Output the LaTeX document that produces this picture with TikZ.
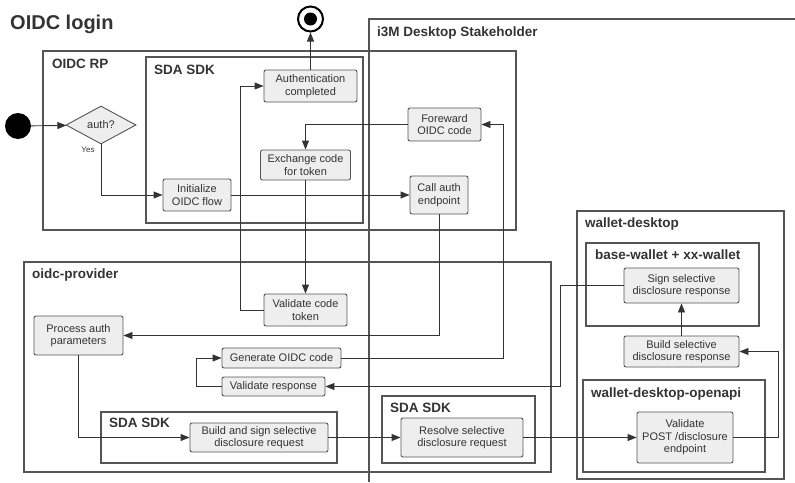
\documentclass[tikz,border=0pt]{standalone}
\usepackage{fontspec}
\setmainfont{Liberation Sans}
\usetikzlibrary{arrows.meta,shapes.geometric}
\definecolor{ln}{HTML}{333333}
\definecolor{bx}{HTML}{555555}
\definecolor{nf}{HTML}{EEEEEE}
\tikzset{
  act/.style={draw=bx, fill=nf, rounded corners=2pt, line width=0.9pt, align=center, inner sep=0pt,
    text=ln, font=\fontsize{11}{12.6}\selectfont},
  grp/.style={draw=bx, line width=1.1pt},
  grplabel/.style={anchor=base west, inner sep=0pt, font=\fontsize{13.5}{15}\selectfont\bfseries, text=ln},
  flow/.style={draw=ln, line width=0.9pt, -{Triangle[length=9pt,width=7pt]}},
}
\begin{document}
\begin{tikzpicture}[x=1pt,y=-1pt]
\useasboundingbox (0,0) rectangle (795,482);
% title
\node[anchor=base west, inner sep=0pt, font=\fontsize{20}{22}\selectfont\bfseries, text=ln] (title) at (10,29) {OIDC login};
% containers
\draw[grp] (795,19) -- (369,19) -- (369,482);
\node[grplabel] (l-i3m) at (377,36) {i3M Desktop Stakeholder};
\draw[grp] (43,51) rectangle (516,230);
\node[grplabel] (l-rp) at (52,68) {OIDC RP};
\draw[grp] (146,57) rectangle (363,223);
\node[grplabel] (l-sdk1) at (154,74) {SDA SDK};
\draw[grp] (577,211) rectangle (784,479);
\node[grplabel] (l-wd) at (585,227) {wallet-desktop};
\draw[grp] (24,262) rectangle (551,472);
\node[grplabel] (l-op) at (32,278) {oidc-provider};
\draw[grp] (101,412) rectangle (337,463);
\node[grplabel] (l-sdk2) at (109,427) {SDA SDK};
\draw[grp] (382,396) rectangle (535,463);
\node[grplabel] (l-sdk3) at (390,412) {SDA SDK};
\draw[grp] (586,243) rectangle (759,326);
\node[grplabel] (l-bw) at (595,259) {base-wallet + xx-wallet};
\draw[grp] (583,380) rectangle (765,472);
\node[grplabel] (l-wdo) at (591,397) {wallet-desktop-openapi};
% start / end
\node[circle, fill=black, minimum size=26pt, inner sep=0pt] (start) at (18,126) {};
\node[circle, draw=black, line width=2pt, fill=white, minimum size=25pt, inner sep=0pt] (end) at (310.5,19) {};
\fill[black] (end.center) circle (6.5pt);
% decision
\node[diamond, draw=bx, fill=nf, line width=0.9pt, minimum width=70pt, minimum height=38pt, inner sep=0pt,
  text=ln, font=\fontsize{11}{12.6}\selectfont] (auth) at (101,125) {auth?};
% activities
\node[act, minimum width=93pt, minimum height=32pt] (authc) at (310.5,86) {Authentication\\completed};
\node[act, minimum width=90pt, minimum height=30pt] (exchange) at (305.5,165) {Exchange code\\for token};
\node[act, minimum width=68pt, minimum height=32pt] (init) at (197,195) {Initialize\\OIDC flow};
\node[act, minimum width=73pt, minimum height=33pt] (foreward) at (444.5,124.5) {Foreward\\OIDC code};
\node[act, minimum width=58pt, minimum height=38pt] (callauth) at (439,195) {Call auth\\endpoint};
\node[act, minimum width=83pt, minimum height=32pt] (validatecode) at (305.5,310) {Validate code\\token};
\node[act, minimum width=89pt, minimum height=39pt] (process) at (78.5,335.5) {Process auth\\parameters};
\node[act, minimum width=119pt, minimum height=20pt] (generate) at (281.5,358) {Generate OIDC code};
\node[act, minimum width=103pt, minimum height=19pt] (validateresp) at (273.5,386.5) {Validate response};
\node[act, minimum width=138pt, minimum height=29pt] (buildsign) at (259,437.5) {Build and sign selective\\disclosure request};
\node[act, minimum width=122pt, minimum height=39pt] (resolve) at (462,437.5) {Resolve selective\\disclosure request};
\node[act, minimum width=115pt, minimum height=35pt] (sign) at (681.5,285.5) {Sign selective\\disclosure response};
\node[act, minimum width=115pt, minimum height=31pt] (buildsel) at (681.5,351.5) {Build selective\\disclosure response};
\node[act, minimum width=96pt, minimum height=51pt] (validatepost) at (685,437.5) {Validate\\POST /disclosure\\endpoint};
% connectors
\draw[flow] (start) -- (auth);
\draw[flow] (auth.south) |- (init.west);
\node[anchor=center, inner sep=0pt, font=\fontsize{8}{9}\selectfont, text=ln] (yes) at (88,150) {Yes};
\draw[flow] (init) -- (callauth);
\draw[flow] (callauth.south) |- (process.east);
\draw[flow] (process.south) |- (buildsign.west);
\draw[flow] (buildsign) -- (resolve);
\draw[flow] (resolve) -- (validatepost);
\draw[flow] (validatepost.east) -- ++(45,0) |- (buildsel.east);
\draw[flow] (buildsel) -- (sign);
\draw[flow] (sign.west) -- ++(-63,0) |- (validateresp.east);
\draw[flow] (validateresp.west) -- ++(-25,0) |- (generate.west);
\draw[flow] (generate.east) -- ++(162,0) |- (foreward.east);
\draw[flow] (foreward.west) -| (exchange.north);
\draw[flow] (exchange) -- (validatecode);
\draw[flow] (validatecode.west) -- ++(-23,0) |- (authc.west);
\draw[flow] (authc) -- (end);
\end{tikzpicture}
\end{document}
